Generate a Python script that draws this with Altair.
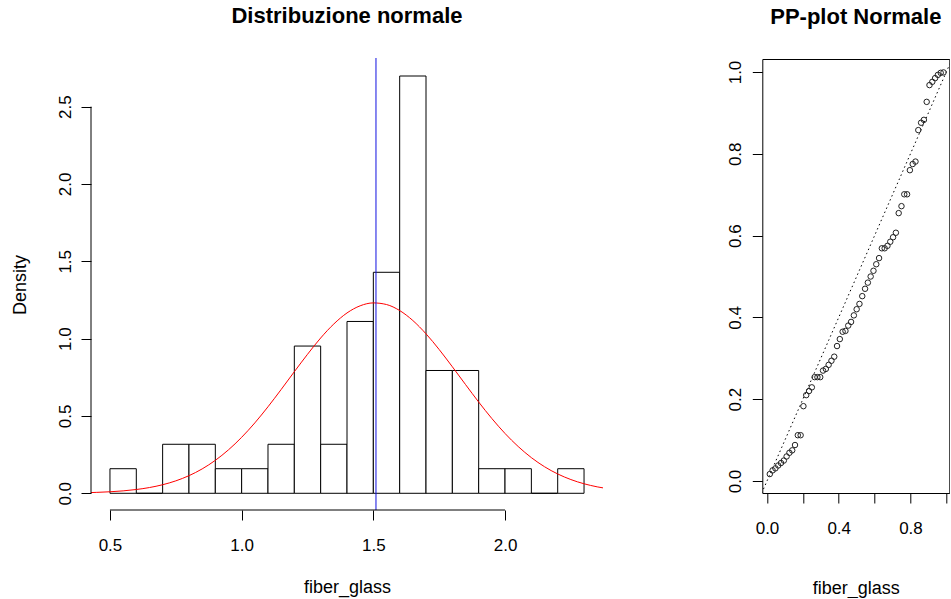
import altair as alt
import pandas as pd

FONT = "Liberation Sans"

# ---------------- data: histogram ----------------
bin_start = [0.5, 0.6, 0.7, 0.8, 0.9, 1.0, 1.1, 1.2, 1.3, 1.4, 1.5, 1.6, 1.7, 1.8, 1.9, 2.0, 2.1, 2.2]
bin_end = [0.6, 0.7, 0.8, 0.9, 1.0, 1.1, 1.2, 1.3, 1.4, 1.5, 1.6, 1.7, 1.8, 1.9, 2.0, 2.1, 2.2, 2.3]
density = [0.159, 0.0, 0.317, 0.317, 0.159, 0.159, 0.317, 0.952, 0.317, 1.111,
           1.429, 2.698, 0.794, 0.794, 0.159, 0.159, 0.0, 0.159]

# normal curve
curve_x = [0.42, 0.45, 0.5, 0.55, 0.6, 0.65, 0.7, 0.75, 0.8, 0.85, 0.9, 0.95, 1.0, 1.05,
           1.1, 1.15, 1.2, 1.25, 1.3, 1.35, 1.4, 1.45, 1.5, 1.55, 1.6, 1.65, 1.7, 1.75,
           1.8, 1.85, 1.9, 1.95, 2.0, 2.05, 2.1, 2.15, 2.2, 2.25, 2.3, 2.35, 2.38]
curve_y = [0.0044, 0.0060, 0.0098, 0.0157, 0.0245, 0.0372, 0.0554, 0.0804, 0.1139, 0.1576,
           0.2131, 0.2810, 0.3620, 0.4552, 0.5594, 0.6711, 0.7860, 0.8986, 1.0041, 1.0949,
           1.1661, 1.2123, 1.2310, 1.2205, 1.1816, 1.1171, 1.0311, 0.9295, 0.8181, 0.7032,
           0.5900, 0.4835, 0.3868, 0.3024, 0.2306, 0.1718, 0.1250, 0.0888, 0.0616, 0.0417,
           0.0326]

mean_value = [1.51]
hist_x_ticks = [0.5, 1.0, 1.5, 2.0]
hist_y_ticks = [0.0, 0.5, 1.0, 1.5, 2.0, 2.5]

# ---------------- data: PP plot ----------------
pp_x = [0.0156, 0.0312, 0.0469, 0.0625, 0.0781, 0.0938, 0.1094, 0.125, 0.1406, 0.1562,
        0.1719, 0.1875, 0.2031, 0.2188, 0.2344, 0.25, 0.2656, 0.2812, 0.2969, 0.3125,
        0.3281, 0.3438, 0.3594, 0.375, 0.3906, 0.4062, 0.4219, 0.4375, 0.4531, 0.4688,
        0.4844, 0.5, 0.5156, 0.5312, 0.5469, 0.5625, 0.5781, 0.5938, 0.6094, 0.625,
        0.6406, 0.6562, 0.6719, 0.6875, 0.7031, 0.7188, 0.7344, 0.75, 0.7656, 0.7812,
        0.7969, 0.8125, 0.8281, 0.8438, 0.8594, 0.875, 0.8906, 0.9062, 0.9219, 0.9375,
        0.9531, 0.9688, 0.9844]
pp_y = [0.017, 0.026, 0.031, 0.038, 0.044, 0.050, 0.060, 0.069, 0.075, 0.088,
        0.112, 0.112, 0.183, 0.210, 0.220, 0.229, 0.254, 0.254, 0.254, 0.270,
        0.274, 0.284, 0.294, 0.304, 0.330, 0.347, 0.365, 0.367, 0.380, 0.389,
        0.405, 0.420, 0.433, 0.452, 0.470, 0.485, 0.500, 0.514, 0.530, 0.545,
        0.569, 0.569, 0.575, 0.585, 0.596, 0.607, 0.655, 0.672, 0.701, 0.701,
        0.760, 0.775, 0.781, 0.858, 0.876, 0.883, 0.927, 0.968, 0.976, 0.985,
        0.993, 0.998, 0.999]
pp_ticks = [0.0, 0.2, 0.4, 0.6, 0.8, 1.0]
diag = [-0.05, 1.05]

# ---------------- layout constants ----------------
W1, H1 = 512, 451
W2, H2 = 187, 434

hist_df = pd.DataFrame({"start": bin_start, "end": bin_end, "density": density})
curve_df = pd.DataFrame({"x": curve_x, "y": curve_y})
mean_df = pd.DataFrame({"x": mean_value})
xaxis_df = pd.DataFrame({"x": [hist_x_ticks[0]], "x2": [hist_x_ticks[-1]]})
yaxis_df = pd.DataFrame({"y": [hist_y_ticks[0]], "y2": [hist_y_ticks[-1]]})
pp_df = pd.DataFrame({"x": pp_x, "y": pp_y})
diag_df = pd.DataFrame({"x": diag, "y": diag})

xs1 = alt.Scale(domain=[0.428, 2.372], nice=False, zero=False)
ys1 = alt.Scale(domain=[-0.108, 2.808], nice=False, zero=False)

x_axis1 = alt.Axis(values=hist_x_ticks, format=".1f", domain=False, grid=False,
                   tickSize=10, tickColor="black", labelPadding=30,
                   labelBaseline="alphabetic", labelFlush=False, labelOverlap=False,
                   title="fiber_glass", titleY=82, titleBaseline="alphabetic")
y_axis1 = alt.Axis(values=hist_y_ticks, format=".1f", domain=False, grid=False,
                   tickSize=10, tickColor="black", labelAngle=270, labelAlign="center",
                   labelBaseline="alphabetic", labelPadding=11, labelOverlap=False,
                   title="Density", titleAngle=270, titleX=-65.7, titleY=H1 / 2,
                   titleAlign="center", titleBaseline="alphabetic")


def X1(field):
    return alt.X(field, type="quantitative", scale=xs1, axis=x_axis1)


def Y1(field):
    return alt.Y(field, type="quantitative", scale=ys1, axis=y_axis1)


bars = alt.Chart(hist_df).mark_rect(fill="white", stroke="black", strokeWidth=1).encode(
    x=X1("start"), x2="end", y=Y1("density"), y2=alt.datum(0)
)
curve = alt.Chart(curve_df).mark_line(color="red", strokeWidth=1, clip=True,
                                      interpolate="monotone").encode(x=X1("x"), y=Y1("y"))
mean_rule = alt.Chart(mean_df).mark_rule(color="#1010e0", strokeWidth=1).encode(
    x=X1("x"), y=alt.value(-1), y2=alt.value(H1)
)
x_line = alt.Chart(xaxis_df).mark_rule(color="black", strokeWidth=1).encode(
    x=X1("x"), x2="x2", y=alt.value(H1)
)
y_line = alt.Chart(yaxis_df).mark_rule(color="black", strokeWidth=1).encode(
    y=Y1("y"), y2="y2", x=alt.value(0)
)

left = alt.layer(bars, curve, mean_rule, x_line, y_line).properties(
    width=W1, height=H1,
    title="Distribuzione normale",
    view=alt.ViewBackground(stroke="transparent"),
)

xs2 = alt.Scale(domain=[-0.0262, 1.0167], nice=False, zero=False)
ys2 = alt.Scale(domain=[-0.0293, 1.0318], nice=False, zero=False)

label_expr = ("(datum.value < 0.05 || (datum.value > 0.35 && datum.value < 0.45) || "
              "(datum.value > 0.75 && datum.value < 0.85)) ? format(datum.value, '.1f') : ''")
x_axis2 = alt.Axis(values=pp_ticks, labelExpr=label_expr, domain=False, grid=False,
                   tickSize=10, tickColor="black", labelPadding=30,
                   labelBaseline="alphabetic", labelFlush=False, labelOverlap=False,
                   title="fiber_glass", titleY=100, titleBaseline="alphabetic")
y_axis2 = alt.Axis(values=pp_ticks, format=".1f", domain=False, grid=False,
                   tickSize=10, tickColor="black", labelAngle=270, labelAlign="center",
                   labelBaseline="alphabetic", labelPadding=12, labelOverlap=False,
                   title=None)


def X2(field):
    return alt.X(field, type="quantitative", scale=xs2, axis=x_axis2)


def Y2(field):
    return alt.Y(field, type="quantitative", scale=ys2, axis=y_axis2)


diag_line = alt.Chart(diag_df).mark_line(color="black", strokeWidth=1, strokeDash=[1.5, 3],
                                         clip=True).encode(x=X2("x"), y=Y2("y"))
points = alt.Chart(pp_df).mark_point(shape="circle", filled=False, size=30, color="#222",
                                     strokeWidth=1, opacity=1, clip=True).encode(
    x=X2("x"), y=Y2("y")
)

right = alt.layer(diag_line, points).properties(
    width=W2, height=H2,
    title="PP-plot Normale",
    view=alt.ViewBackground(stroke="black", strokeWidth=1),
)

chart = alt.HConcatChart(hconcat=[left, right], spacing=159.3, bounds="flush").properties(
    padding={"left": 10, "top": 4, "right": 0, "bottom": 0},
    background="white",
).configure(font=FONT).configure_axis(
    labelFont=FONT, titleFont=FONT, labelFontSize=17, titleFontSize=18,
    titleFontWeight="normal", labelColor="black", titleColor="black",
).configure_title(
    font=FONT, fontSize=22, fontWeight="bold", anchor="middle", offset=30, color="black"
)

chart.save("out.html", embed_options={"renderer": "svg", "actions": False})
